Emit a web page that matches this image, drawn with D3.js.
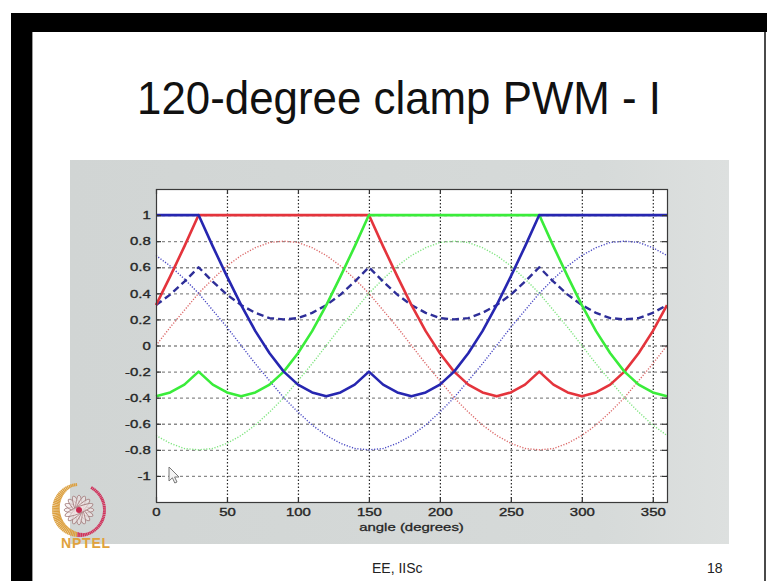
<!DOCTYPE html>
<html>
<head>
<meta charset="utf-8">
<script src="https://cdn.jsdelivr.net/npm/d3@7/dist/d3.min.js"></script>
<style>
	body { margin: 0; background: #fff; }
	svg { display: block; }
	text { font-family: "Liberation Sans", Arial, Helvetica, sans-serif; }
</style>
</head>
<body>
<div id="slide"></div>
<script>
// 120-degree clamp PWM, values every 10 degrees

const angles = [0,10,20,30,40,50,60,70,80,90,100,110,120,130,140,150,160,170,180,
	190,200,210,220,230,240,250,260,270,280,290,300,310,320,330,340,350,360];

// sinusoidal references (thin dotted)
const refRed = [0,0.14,0.27,0.40,0.51,0.61,0.69,0.75,0.79,0.80,0.79,0.75,0.69,0.61,0.51,0.40,0.27,0.14,0,
	-0.14,-0.27,-0.40,-0.51,-0.61,-0.69,-0.75,-0.79,-0.80,-0.79,-0.75,-0.69,-0.61,-0.51,-0.40,-0.27,-0.14,0];
const refGreen = [-0.69,-0.75,-0.79,-0.80,-0.79,-0.75,-0.69,-0.61,-0.51,-0.40,-0.27,-0.14,0,0.14,0.27,0.40,0.51,0.61,0.69,
	0.75,0.79,0.80,0.79,0.75,0.69,0.61,0.51,0.40,0.27,0.14,0,-0.14,-0.27,-0.40,-0.51,-0.61,-0.69];
const refBlue = [0.69,0.61,0.51,0.40,0.27,0.14,0,-0.14,-0.27,-0.40,-0.51,-0.61,-0.69,-0.75,-0.79,-0.80,-0.79,-0.75,-0.69,
	-0.61,-0.51,-0.40,-0.27,-0.14,0,0.14,0.27,0.40,0.51,0.61,0.69,0.75,0.79,0.80,0.79,0.75,0.69];

// common mode offset (dashed)
const offset = [0.31,0.39,0.49,0.60,0.49,0.39,0.31,0.25,0.21,0.20,0.21,0.25,0.31,0.39,0.49,0.60,0.49,0.39,0.31,
	0.25,0.21,0.20,0.21,0.25,0.31,0.39,0.49,0.60,0.49,0.39,0.31,0.25,0.21,0.20,0.21,0.25,0.31];

// clamped modulating signals (thick solid)
const modRed = [0.31,0.53,0.76,1,1,1,1,1,1,1,1,1,1,1,1,1,0.76,0.53,0.31,
	0.11,-0.06,-0.20,-0.30,-0.36,-0.39,-0.36,-0.30,-0.20,-0.30,-0.36,-0.39,-0.36,-0.30,-0.20,-0.06,0.11,0.31];
const modGreen = [-0.39,-0.36,-0.30,-0.20,-0.30,-0.36,-0.39,-0.36,-0.30,-0.20,-0.06,0.11,0.31,0.53,0.76,1,1,1,1,
	1,1,1,1,1,1,1,1,1,0.76,0.53,0.31,0.11,-0.06,-0.20,-0.30,-0.36,-0.39];
const modBlue = [1,1,1,1,0.76,0.53,0.31,0.11,-0.06,-0.20,-0.30,-0.36,-0.39,-0.36,-0.30,-0.20,-0.30,-0.36,-0.39,
	-0.36,-0.30,-0.20,-0.06,0.11,0.31,0.53,0.76,1,1,1,1,1,1,1,1,1,1];

const xTicks = [0,50,100,150,200,250,300,350];
const yTicks = [-1,-0.8,-0.6,-0.4,-0.2,0,0.2,0.4,0.6,0.8,1];

const series = [
	{ values: refRed,   color: '#dc6a6a', width: 1.4, dash: '1.2,1.6' },
	{ values: refGreen, color: '#7ee47e', width: 1.4, dash: '1.2,1.6' },
	{ values: refBlue,  color: '#4a4ac4', width: 1.4, dash: '1.2,1.6' },
	{ values: offset,   color: '#2e2e98', width: 2.4, dash: '7,4' },
	{ values: modRed,   color: '#e4343c', width: 2.6, dash: null },
	{ values: modGreen, color: '#3aec3a', width: 2.6, dash: null },
	{ values: modBlue,  color: '#2626b0', width: 2.6, dash: null }
];

const W = 767, H = 581;
const svg = d3.select('#slide').append('svg')
	.attr('width', W)
	.attr('height', H);

//slide frame
svg.append('rect').attr('x', 0).attr('y', 0).attr('width', W).attr('height', H).attr('fill', '#fff');
svg.append('rect').attr('x', 11).attr('y', 13).attr('width', W - 11).attr('height', 19).attr('fill', '#000');
svg.append('rect').attr('x', 11).attr('y', 13).attr('width', 21).attr('height', H - 13).attr('fill', '#000');
svg.append('rect').attr('x', 32).attr('y', 32).attr('width', 1).attr('height', H - 32).attr('fill', '#9a9a9a');
svg.append('rect').attr('x', 764).attr('y', 32).attr('width', 2).attr('height', H - 32).attr('fill', '#4a4a4a');

//title
svg.append('text')
	.attr('x', 137)
	.attr('y', 114)
	.attr('textLength', 524)
	.attr('lengthAdjust', 'spacingAndGlyphs')
	.style('font-size', '47px')
	.style('fill', '#111')
	.text('120-degree clamp PWM - I');

//grey figure panel
const grad = svg.append('defs').append('linearGradient')
	.attr('id', 'panelGrad')
	.attr('x1', 0).attr('x2', 1).attr('y1', 0).attr('y2', 0);
grad.append('stop').attr('offset', '0%').attr('stop-color', '#d1d5d4');
grad.append('stop').attr('offset', '80%').attr('stop-color', '#d6dad9');
grad.append('stop').attr('offset', '100%').attr('stop-color', '#dde0df');

svg.append('rect')
	.attr('x', 70).attr('y', 160)
	.attr('width', 659).attr('height', 384)
	.attr('fill', 'url(#panelGrad)');

//scales
const x = d3.scaleLinear().domain([0, 360]).range([156, 667]);
const y = d3.scaleLinear().domain([-1.2, 1.2]).range([502, 189]);

const plot = svg.append('g').attr('class', 'plot');

plot.append('rect')
	.attr('x', x(0)).attr('y', y(1.2))
	.attr('width', x(360) - x(0)).attr('height', y(-1.2) - y(1.2))
	.attr('fill', '#fff');

//grid
plot.append('g').attr('class', 'grid-y')
	.selectAll('line').data(yTicks).enter().append('line')
	.attr('x1', x(0)).attr('x2', x(360))
	.attr('y1', d => y(d) + 0.5).attr('y2', d => y(d) + 0.5)
	.style('stroke', '#8a8a8a')
	.style('stroke-width', 1.3)
	.style('stroke-dasharray', '3,3');

plot.append('g').attr('class', 'grid-x')
	.selectAll('line').data(xTicks.filter(d => d > 0)).enter().append('line')
	.attr('x1', d => x(d) + 0.5).attr('x2', d => x(d) + 0.5)
	.attr('y1', y(1.2)).attr('y2', y(-1.2))
	.style('stroke', '#2a2a2a')
	.style('stroke-width', 1.2)
	.style('stroke-dasharray', '1.5,2');

//curves
const line = d3.line()
	.x((d, i) => x(angles[i]))
	.y(d => y(d));

plot.append('g').attr('class', 'curves')
	.selectAll('path').data(series).enter().append('path')
	.attr('d', d => line(d.values))
	.attr('fill', 'none')
	.style('stroke', d => d.color)
	.style('stroke-width', d => d.width)
	.style('stroke-dasharray', d => d.dash)
	.style('stroke-linejoin', 'round');

//axes, matlab style inward ticks
const fmt = d => String(+d.toFixed(1));

plot.append('g')
	.attr('class', 'x axis')
	.attr('transform', 'translate(0,' + y(-1.2) + ')')
	.call(d3.axisBottom(x).tickValues(xTicks).tickSize(-5).tickSizeOuter(0).tickPadding(6).tickFormat(fmt));

plot.append('g')
	.attr('transform', 'translate(0,' + y(1.2) + ')')
	.call(d3.axisTop(x).tickValues(xTicks).tickSize(-5).tickSizeOuter(0).tickFormat(''));

plot.append('g')
	.attr('class', 'y axis')
	.attr('transform', 'translate(' + x(0) + ',0)')
	.call(d3.axisLeft(y).tickValues(yTicks).tickSize(-5).tickSizeOuter(0).tickPadding(4).tickFormat(fmt));

plot.append('g')
	.attr('transform', 'translate(' + x(360) + ',0)')
	.call(d3.axisRight(y).tickValues(yTicks).tickSize(-5).tickSizeOuter(0).tickFormat(''));

plot.selectAll('.domain').remove();
plot.selectAll('.tick line').style('stroke', '#333').style('stroke-width', 1.2);

plot.selectAll('.axis text')
	.attr('transform', 'scale(1.3,1)')
	.style('font-size', '11.5px')
	.style('fill', '#262626')
	.style('stroke', '#262626')
	.style('stroke-width', 0.35);

//box
plot.append('rect')
	.attr('x', x(0) + 0.5).attr('y', y(1.2) + 0.5)
	.attr('width', x(360) - x(0)).attr('height', y(-1.2) - y(1.2))
	.attr('fill', 'none')
	.style('stroke', '#3a3a3a')
	.style('stroke-width', 1.2);

plot.append('text')
	.attr('transform', 'translate(' + ((x(0) + x(360)) / 2) + ',531) scale(1.3,1)')
	.style('text-anchor', 'middle')
	.style('font-size', '11.5px')
	.style('fill', '#262626')
	.style('stroke', '#262626')
	.style('stroke-width', 0.3)
	.text('angle (degrees)');

//mouse pointer left in the recording
svg.append('path')
	.attr('transform', 'translate(169,467)')
	.attr('d', 'M0,0 L0,14 L3.4,10.8 L5.8,16 L8,15 L5.6,10 L10,10 Z')
	.attr('fill', '#f4f4f4')
	.style('stroke', '#777')
	.style('stroke-width', 1);

//footer
svg.append('text').attr('x', 372).attr('y', 573).style('font-size', '14px').style('fill', '#222').text('EE, IISc');
svg.append('text').attr('x', 707).attr('y', 573).style('font-size', '14px').style('fill', '#222').text('18');

//NPTEL logo
const logo = svg.append('g').attr('transform', 'translate(79,510)');
d3.range(0, 360, 4).forEach(function(a){
	const rad = a * Math.PI / 180;
	// crescent: thicker on left side
	const thick = 3 + 5 * Math.max(0, -Math.cos(rad - 0.3));
	const r1 = 27, r0 = r1 - thick;
	const gold = (a > 95 && a < 265);
	if (a > 60 && a < 95) return;
	logo.append('line')
		.attr('x1', r0 * Math.cos(rad)).attr('y1', -r0 * Math.sin(rad))
		.attr('x2', r1 * Math.cos(rad)).attr('y2', -r1 * Math.sin(rad))
		.style('stroke', gold ? '#dca040' : '#d0305a')
		.style('stroke-width', 1.5);
});
d3.range(0, 180, 22.5).forEach(function(a){
	logo.append('ellipse')
		.attr('rx', 15).attr('ry', 3.4)
		.attr('transform', 'rotate(' + a + ')')
		.attr('fill', '#f3e7e7')
		.attr('fill-opacity', 0.6)
		.style('stroke', '#a98686')
		.style('stroke-width', 0.9);
});
logo.append('circle').attr('r', 3).attr('fill', '#c8284e');
svg.append('text')
	.attr('x', 86).attr('y', 548)
	.style('text-anchor', 'middle')
	.style('font-size', '14px')
	.style('font-weight', 'bold')
	.style('letter-spacing', '0.8px')
	.style('fill', '#e0a23c')
	.text('NPTEL');
</script>
</body>
</html>
